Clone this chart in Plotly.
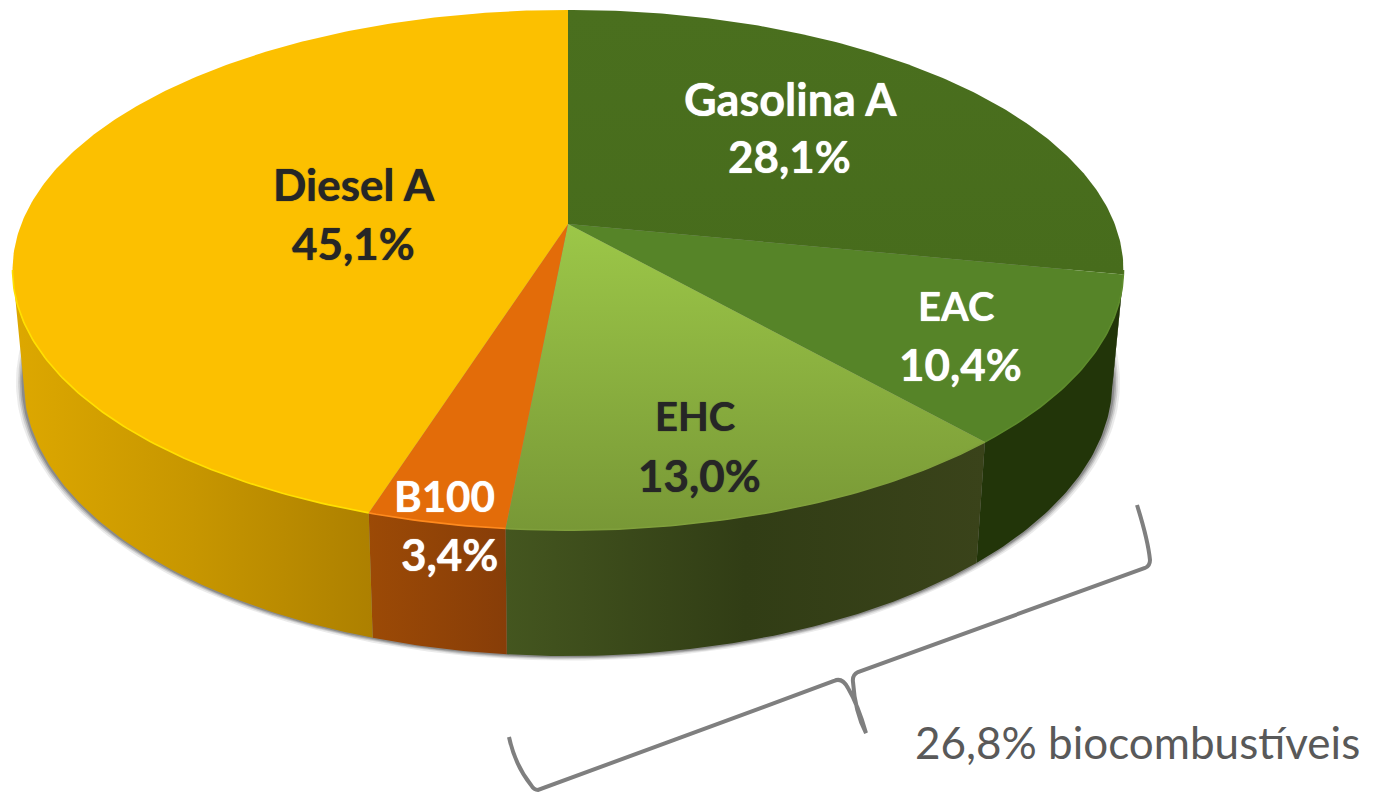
import numpy as np
import plotly.graph_objects as go

# ---- data (clockwise from 12 o'clock) ----
names = ["Gasolina A", "EAC", "EHC", "B100", "Diesel A"]
values = [28.1, 10.4, 13.0, 3.4, 45.1]
note_text = "26,8% biocombustíveis"

# ---- styles ----
top_scales = [
    [[0, "#476C1C"], [1, "#4A6F1E"]],
    [[0, "#568428"], [1, "#568428"]],
    [[0, "#789836"], [1, "#9CC748"]],
    [[0, "#E36C09"], [1, "#E36C09"]],
    [[0, "#FCC000"], [1, "#FCC000"]],
]
side_scales = [
    [[0, "#223508"], [1, "#223508"]],
    [[0, "#223509"], [1, "#223509"]],
    [[0, "#44561F"], [0.5, "#313D15"], [1, "#3A431A"]],
    [[0, "#9C4A06"], [1, "#873D08"]],
    [[0, "#DDA800"], [0.5, "#C79600"], [1, "#AD8000"]],
]
rim_colors = ["#4F7521", "#5E8C2C", "#80A03C", "#FF8A1E", "#FFE000"]
name_colors = ["white", "white", "#262626", "white", "#262626"]
value_colors = ["white", "white", "#262626", "white", "#262626"]
name_sizes = [45, 40, 40, 42, 44]
value_size = 44
label_pos = [(790, 99), (956, 306), (695, 416), (444, 496), (354, 184)]
value_pos = [(789, 156), (960, 364), (699, 475), (449, 554), (353, 243)]

# ---- projection of the pie disc onto the page (perspective) ----
CX, K = 568.0, 0.177
A, B = 546.7, 252.0
TOP_Y = 224.0
BOT_SX, BOT_SY, BOT_Y = 0.98, 1.055, 333.0
SIL = np.arccos(-K)  # silhouette angle


def project(theta, sx=1.0, sy=1.0, y0=TOP_Y):
    X, Y = np.sin(theta), np.cos(theta)
    w = 1 + K * Y
    return CX + sx * A * X / w, y0 - sy * B * Y / w


def arc(a, b, n=None):
    n = n or max(4, int(abs(b - a) * 90))
    return np.linspace(a, b, n)


edges = np.concatenate([[0], np.cumsum(values)]) / sum(values) * 2 * np.pi

fig = go.Figure()

# soft drop shadow under the base
full = arc(0, 2 * np.pi, 400)
for grow, alpha in [(1.014, 0.10), (1.010, 0.16), (1.007, 0.22), (1.004, 0.30)]:
    x, y = project(full, BOT_SX * grow, BOT_SY * grow, BOT_Y)
    fig.add_trace(go.Scatter(x=x, y=y, mode="lines", fill="toself", line=dict(width=0),
                             fillcolor=f"rgba(60,60,60,{alpha})", hoverinfo="skip", showlegend=False))

# side walls (visible front part only)
for i in range(len(values)):
    a, b = edges[i], edges[i + 1]
    a2, b2 = max(a, SIL), min(b, 2 * np.pi - SIL)
    if b2 <= a2:
        continue
    t = arc(a2, b2)
    xt, yt = project(t)
    xb, yb = project(t[::-1], BOT_SX, BOT_SY, BOT_Y)
    fig.add_trace(go.Scatter(
        x=np.r_[xt, xb, xt[0]], y=np.r_[yt, yb, yt[0]], mode="lines", fill="toself",
        line=dict(width=0), fillgradient=dict(type="horizontal", colorscale=side_scales[i]),
        hoverinfo="skip", showlegend=False))

# top slices
for i in range(len(values)):
    t = arc(edges[i], edges[i + 1])
    xt, yt = project(t)
    fig.add_trace(go.Scatter(
        x=np.r_[CX, xt, CX], y=np.r_[TOP_Y, yt, TOP_Y], mode="lines", fill="toself",
        line=dict(width=0), fillgradient=dict(type="vertical", colorscale=top_scales[i]),
        hoverinfo="skip", showlegend=False))

# bright rim on the visible front edge
for i in range(len(values)):
    a, b = max(edges[i], SIL), min(edges[i + 1], 2 * np.pi - SIL)
    if b <= a:
        continue
    xt, yt = project(arc(a, b))
    fig.add_trace(go.Scatter(x=xt, y=yt, mode="lines", line=dict(width=1.6, color=rim_colors[i]),
                             hoverinfo="skip", showlegend=False))

# labels
FONT = "Lato, 'Open Sans', sans-serif"
for i, nm in enumerate(names):
    pct = f"{values[i]:.1f}".replace(".", ",") + "%"
    fig.add_annotation(x=label_pos[i][0], y=label_pos[i][1], text=f"<b>{nm}</b>", showarrow=False,
                       font=dict(family=FONT, size=name_sizes[i], color=name_colors[i],
                                 shadow=f"0 0 1px {name_colors[i]}"),
                       xanchor="center", yanchor="middle")
    fig.add_annotation(x=value_pos[i][0], y=value_pos[i][1], text=f"<b>{pct}</b>", showarrow=False,
                       font=dict(family=FONT, size=value_size, color=value_colors[i],
                                 shadow=f"0 0 1px {value_colors[i]}"),
                       xanchor="center", yanchor="middle")

fig.add_annotation(x=1137, y=742, text=note_text, showarrow=False,
                   font=dict(family=FONT, size=44, color="#595959"), xanchor="center", yanchor="middle")

# curly bracket
fig.add_shape(type="path", xref="x", yref="y", line=dict(color="#7F7F7F", width=4),
              path="M1137,505 Q1148,540 1150,560 Q1150,566 1145,568 L858,672 Q852,675 853,682 "
                   "Q855,712 866,733 Q858,705 848,688 Q842,677 834,681 L538,790 Q534,790 531,785 Q515,765 509,737")

fig.update_layout(
    width=1375, height=793, margin=dict(l=0, r=0, t=0, b=0),
    paper_bgcolor="white", plot_bgcolor="white", showlegend=False,
    xaxis=dict(range=[0, 1375], visible=False, fixedrange=True),
    yaxis=dict(range=[793, 0], visible=False, fixedrange=True),
)
fig.write_html("out.html", config=dict(displayModeBar=False),
               post_script="document.body.style.margin='0';document.body.style.overflow='hidden';")
